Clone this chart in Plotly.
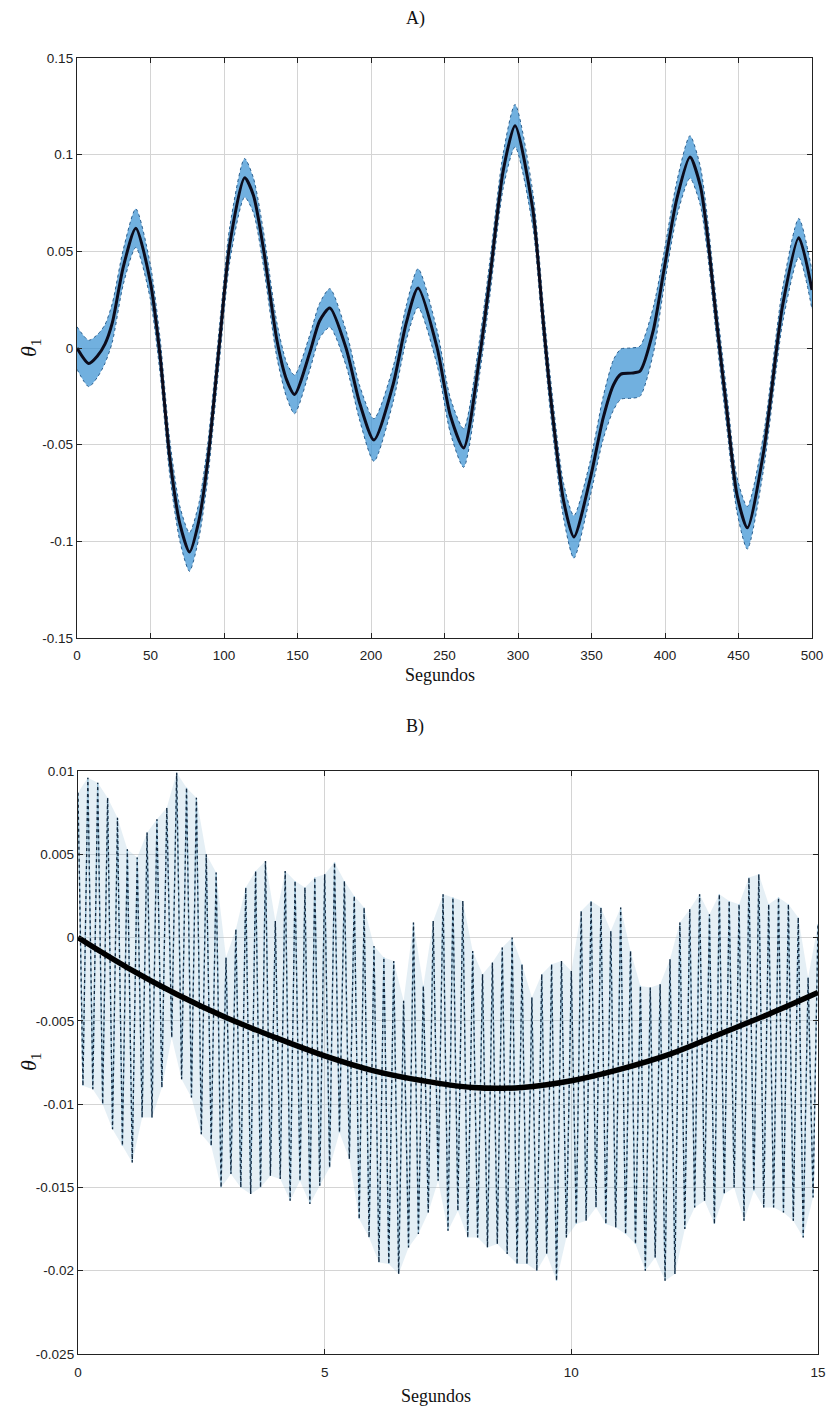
import plotly.graph_objects as go

# ---------------- Panel A data (0-500 s) ----------------
A_t = [0, 8, 14, 19, 24, 31.5, 40, 49.7, 56.5, 63, 70, 76.5, 83, 89, 97, 104, 114, 120, 126.7,
       136, 142.6, 148, 158.5, 165, 172, 183, 192.5, 202, 215, 224, 232, 245, 254, 263, 274,
       281, 290, 298, 310, 317, 322, 331, 338, 349, 358, 365, 370, 377, 383, 392, 399, 408,
       417, 424, 428.6, 435, 442, 449, 456, 467, 476, 480, 491, 500]
A_theta = [0.0, -0.008, -0.004, 0.002, 0.013, 0.042, 0.062, 0.035, -0.004, -0.056, -0.091, -0.1055,
           -0.089, -0.058, 0.003, 0.054, 0.088, 0.079, 0.052, 0.004, -0.0165, -0.024, -0.002, 0.014,
           0.0207, 0.0, -0.029, -0.0476, -0.019, 0.013, 0.031, 0.0, -0.035, -0.0517, -0.004, 0.037,
           0.092, 0.115, 0.072, 0.015, -0.024, -0.079, -0.0977, -0.068, -0.036, -0.019, -0.0135,
           -0.013, -0.012, 0.009, 0.039, 0.077, 0.0988, 0.084, 0.060, 0.0145, -0.032, -0.076, -0.093,
           -0.054, 0.0, 0.022, 0.057, 0.030]
A_noise_amp = [0.011, 0.012, 0.011, 0.010, 0.010, 0.009, 0.010, 0.009, 0.009, 0.009, 0.009, 0.010,
               0.009, 0.009, 0.009, 0.009, 0.010, 0.009, 0.009, 0.009, 0.009, 0.010, 0.009, 0.009,
               0.010, 0.009, 0.009, 0.011, 0.009, 0.009, 0.010, 0.009, 0.009, 0.010, 0.009, 0.009,
               0.009, 0.011, 0.009, 0.009, 0.009, 0.009, 0.011, 0.009, 0.011, 0.013, 0.013, 0.013,
               0.013, 0.012, 0.009, 0.009, 0.011, 0.010, 0.009, 0.009, 0.009, 0.009, 0.011, 0.009,
               0.009, 0.009, 0.010, 0.010]
A_xticks = [0, 50, 100, 150, 200, 250, 300, 350, 400, 450, 500]
A_yticks = [-0.15, -0.1, -0.05, 0, 0.05, 0.1, 0.15]
A_yticklabels = ["-0.15", "-0.1", "-0.05", "0", "0.05", "0.1", "0.15"]

# ---------------- Panel B data (0-15 s) ----------------
B_t = [0, 1, 2, 3, 4, 5, 6, 7, 8, 9, 10, 11, 12, 13, 14, 15]
B_theta = [0.0, -0.0018, -0.0034, -0.0048, -0.0060, -0.0071, -0.0080, -0.0086, -0.0090, -0.0090,
           -0.0086, -0.0079, -0.0070, -0.0058, -0.0046, -0.0033]

B_peak_t = [0.0, 0.2, 0.4, 0.6, 0.8, 1.0, 1.2, 1.4, 1.6, 1.8, 2.0, 2.2, 2.4, 2.6, 2.8, 3.0, 3.2,
            3.4, 3.6, 3.8, 4.0, 4.2, 4.4, 4.6, 4.8, 5.0, 5.2, 5.4, 5.6, 5.8, 6.0, 6.2, 6.4, 6.6,
            6.8, 7.0, 7.2, 7.4, 7.6, 7.8, 8.0, 8.2, 8.4, 8.6, 8.8, 9.0, 9.2, 9.4, 9.6, 9.8, 10.0,
            10.2, 10.4, 10.6, 10.8, 11.0, 11.2, 11.4, 11.6, 11.8, 12.0, 12.2, 12.4, 12.6, 12.8,
            13.0, 13.2, 13.4, 13.6, 13.8, 14.0, 14.2, 14.4, 14.6, 14.8, 15.0]
B_peak = [0.0087, 0.0096, 0.0093, 0.0084, 0.0072, 0.0053, 0.0048, 0.0063, 0.0071, 0.0078, 0.0099,
          0.0090, 0.0084, 0.0050, 0.0039, -0.0012, 0.0005, 0.0030, 0.0040, 0.0046, 0.0010, 0.0040,
          0.0034, 0.0030, 0.0036, 0.0038, 0.0045, 0.0034, 0.0025, 0.0018, -0.0005, -0.0012,
          -0.0014, -0.0038, 0.0009, -0.0029, 0.0010, 0.0026, 0.0024, 0.0022, -0.0008, -0.0022,
          -0.0015, -0.0006, 0.0000, -0.0016, -0.0036, -0.0022, -0.0016, -0.0014, -0.0020, 0.0016,
          0.0022, 0.0018, 0.0004, 0.0018, -0.0008, -0.0029, -0.0030, -0.0028, -0.0013, 0.0009,
          0.0017, 0.0026, 0.0014, 0.0026, 0.0022, 0.0020, 0.0036, 0.0038, 0.0020, 0.0024, 0.0020,
          0.0012, -0.0024, 0.0008]
B_trough_t = [0.1, 0.3, 0.5, 0.7, 0.9, 1.1, 1.3, 1.5, 1.7, 1.9, 2.1, 2.3, 2.5, 2.7, 2.9, 3.1, 3.3,
              3.5, 3.7, 3.9, 4.1, 4.3, 4.5, 4.7, 4.9, 5.1, 5.3, 5.5, 5.7, 5.9, 6.1, 6.3, 6.5, 6.7,
              6.9, 7.1, 7.3, 7.5, 7.7, 7.9, 8.1, 8.3, 8.5, 8.7, 8.9, 9.1, 9.3, 9.5, 9.7, 9.9, 10.1,
              10.3, 10.5, 10.7, 10.9, 11.1, 11.3, 11.5, 11.7, 11.9, 12.1, 12.3, 12.5, 12.7, 12.9,
              13.1, 13.3, 13.5, 13.7, 13.9, 14.1, 14.3, 14.5, 14.7, 14.9]
B_trough = [-0.0089, -0.0091, -0.0100, -0.0115, -0.0125, -0.0135, -0.0108, -0.0108, -0.0090,
            -0.0060, -0.0085, -0.0096, -0.0118, -0.0125, -0.0150, -0.0142, -0.0150, -0.0154,
            -0.0150, -0.0143, -0.0145, -0.0158, -0.0146, -0.0160, -0.0149, -0.0138, -0.0117,
            -0.0133, -0.0169, -0.0180, -0.0195, -0.0196, -0.0202, -0.0186, -0.0178, -0.0165,
            -0.0146, -0.0176, -0.0164, -0.0180, -0.0180, -0.0186, -0.0184, -0.0190, -0.0196,
            -0.0196, -0.0200, -0.0190, -0.0206, -0.0180, -0.0172, -0.0170, -0.0162, -0.0172,
            -0.0174, -0.0178, -0.0184, -0.0200, -0.0192, -0.0206, -0.0202, -0.0175, -0.0162,
            -0.0158, -0.0172, -0.0154, -0.0150, -0.0170, -0.0152, -0.0162, -0.0162, -0.0165,
            -0.0170, -0.0180, -0.0156]
B_xticks = [0, 5, 10, 15]
B_yticks = [-0.025, -0.02, -0.015, -0.01, -0.005, 0, 0.005, 0.01]
B_yticklabels = ["-0.025", "-0.02", "-0.015", "-0.01", "-0.005", "0", "0.005", "0.01"]

# ---------------- build figure ----------------
fig = go.Figure()

# Panel A noise band
A_upper = [v + a for v, a in zip(A_theta, A_noise_amp)]
A_lower = [v - a for v, a in zip(A_theta, A_noise_amp)]
band_line = dict(color="#2a5f8f", width=1, dash="dot", shape="spline", smoothing=0.7)
fig.add_trace(go.Scatter(x=A_t, y=A_upper, mode="lines", line=band_line,
                         xaxis="x", yaxis="y", showlegend=False, hoverinfo="skip"))
fig.add_trace(go.Scatter(x=A_t, y=A_lower, mode="lines", line=band_line,
                         fill="tonexty", fillcolor="rgba(58,145,210,0.72)",
                         xaxis="x", yaxis="y", showlegend=False, hoverinfo="skip"))
fig.add_trace(go.Scatter(x=A_t, y=A_theta, mode="lines",
                         line=dict(color="#0c0c1c", width=3, shape="spline", smoothing=0.7),
                         xaxis="x", yaxis="y", showlegend=False))

# Panel B noise
zig_t, zig_y = [], []
for i in range(len(B_trough_t)):
    zig_t += [B_peak_t[i], B_trough_t[i]]
    zig_y += [B_peak[i], B_trough[i]]
zig_t.append(B_peak_t[-1])
zig_y.append(B_peak[-1])

fig.add_trace(go.Scatter(x=B_peak_t + B_trough_t[::-1], y=B_peak + B_trough[::-1], mode="lines",
                         line=dict(width=0), fill="toself", fillcolor="rgba(150,190,215,0.25)",
                         xaxis="x2", yaxis="y2", showlegend=False, hoverinfo="skip"))
fig.add_trace(go.Scatter(x=zig_t, y=zig_y, mode="lines", line=dict(color="#9ec4da", width=1.4),
                         xaxis="x2", yaxis="y2", showlegend=False, hoverinfo="skip"))
fig.add_trace(go.Scatter(x=zig_t, y=zig_y, mode="lines", line=dict(color="#14283e", width=1.3, dash="dot"),
                         xaxis="x2", yaxis="y2", showlegend=False, hoverinfo="skip"))
fig.add_trace(go.Scatter(x=B_t, y=B_theta, mode="lines", line=dict(color="black", width=5.5, shape="spline"),
                         xaxis="x2", yaxis="y2", showlegend=False))

W, H = 827, 1410
axis_common = dict(showline=True, mirror="ticks", linecolor="#222", linewidth=1.3, ticks="inside",
                   ticklen=5, tickcolor="#222", showgrid=True, gridcolor="#d4d4d4", gridwidth=1,
                   zeroline=False, automargin=False,
                   tickfont=dict(family="Liberation Sans", size=13.5, color="#222"))

fig.update_layout(
    width=W, height=H, margin=dict(l=0, r=0, t=0, b=0, autoexpand=False),
    paper_bgcolor="white", plot_bgcolor="white",
    xaxis=dict(domain=[77 / W, 812 / W], anchor="y", range=[0, 500], tickvals=A_xticks,
               ticklabelstandoff=5, **axis_common),
    yaxis=dict(domain=[1 - 638 / H, 1 - 58 / H], anchor="x", range=[-0.15, 0.15],
               tickvals=A_yticks, ticktext=A_yticklabels, **axis_common),
    xaxis2=dict(domain=[78 / W, 818 / W], anchor="y2", range=[0, 15], tickvals=B_xticks,
                ticklabelstandoff=6, **axis_common),
    yaxis2=dict(domain=[1 - 1354 / H, 1 - 771 / H], anchor="x2", range=[-0.025, 0.01],
                tickvals=B_yticks, ticktext=B_yticklabels, **axis_common),
)

serif = "Liberation Serif"
anns = [
    dict(text="A)", x=415 / W, y=1 - 18 / H),
    dict(text="B)", x=415 / W, y=1 - 726 / H),
    dict(text="Segundos", x=440 / W, y=1 - 675 / H),
    dict(text="Segundos", x=436 / W, y=1 - 1396 / H),
]
for a in anns:
    fig.add_annotation(xref="paper", yref="paper", showarrow=False, xanchor="center", yanchor="middle",
                       font=dict(family=serif, size=18, color="#111"), **a)
for yy in [348, 1062]:
    fig.add_annotation(xref="paper", yref="paper", x=30 / W, y=1 - yy / H, showarrow=False,
                       text="<i>θ</i><sub>1</sub>", textangle=-90, xanchor="center", yanchor="middle",
                       font=dict(family=serif, size=22, color="#111"))

fig.write_html("out.html", config={"displayModeBar": False},
               post_script="document.body.style.margin='0px';")
